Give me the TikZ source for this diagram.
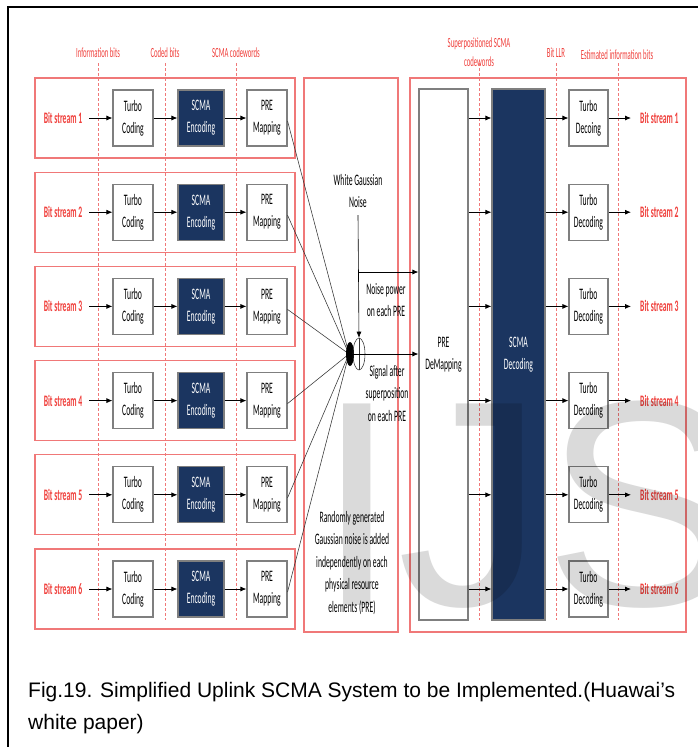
\documentclass[tikz,border=0pt]{standalone}
\usepackage{fontspec}
\usetikzlibrary{arrows.meta,shapes.geometric}
\newfontfamily\cf{Carlito}[FakeStretch=0.48]
\newfontfamily\capf{Liberation Sans}
\definecolor{navy}{HTML}{1B3560}
\definecolor{rtxt}{HTML}{F0403C}
\definecolor{rline}{HTML}{F07878}
\definecolor{gbox}{HTML}{7F7F7F}
\definecolor{wm}{HTML}{DADADA}
\begin{document}
\begin{tikzpicture}[x=1pt,y=-1pt,
  rowbox/.style={draw=rline, line width=1.1pt},
  wbox/.style={draw=gbox, line width=1.1pt, fill=white, minimum width=40pt, minimum height=56pt, inner sep=0pt, align=center, font=\cf\fontsize{16}{22}\selectfont},
  nbox/.style={wbox, fill=navy, text=white},
  arr/.style={-{Latex[length=6pt,width=5pt]}, line width=0.8pt},
  dline/.style={draw=rline, line width=0.6pt, dash pattern=on 3pt off 2pt},
  hdr/.style={text=rtxt, align=center, font=\cf\fontsize{14}{19}\selectfont, inner sep=0pt},
  bsl/.style={text=rtxt, font=\cf\bfseries\fontsize{16}{18}\selectfont, inner sep=0pt},
  mtxt/.style={align=center, font=\cf\fontsize{16}{22.5}\selectfont, inner sep=0pt},
  thinl/.style={line width=0.55pt, draw=black!80}]
\useasboundingbox (0,0) rectangle (698,747);
\fill[white] (0,0) rectangle (698,747);
% frame
\draw[line width=2pt] (8,747) -- (8,7) -- (698,7);
% headers
\node[hdr] (h1) at (98,53) {Information bits};
\node[hdr] (h2) at (165,53) {Coded bits};
\node[hdr] (h3) at (236,53) {SCMA codewords};
\node[hdr] (h4) at (479,52) {Superpositioned SCMA\\codewords};
\node[hdr] (h5) at (556,53) {Bit LLR};
\node[hdr] (h6) at (617,55) {Estimated information bits};
% big boxes
\draw[rowbox] (304,78) rectangle (398,632);
\draw[rowbox] (410,78) rectangle (686,632);
\foreach \i in {1,...,6}{
  \pgfmathsetmacro\yc{118+94.2*(\i-1)}
  \draw[rowbox] (35,\yc-40) rectangle (295,\yc+40);
}
% dashed guides
\foreach \x in {98,165,236,479,556,618}{
  \draw[dline] (\x,63) -- (\x,620);
}
% receiver blocks
\node[wbox, minimum width=49pt, minimum height=531pt] (pdm) at (443.5,354.5) {PRE\\DeMapping};
\node[nbox, minimum width=53pt, minimum height=531pt] (scd) at (518.5,354.5) {SCMA\\Decoding};
% rows
\coordinate (conv) at (349,354);
\foreach \i in {1,...,6}{
  \pgfmathsetmacro\yc{118+94.2*(\i-1)}
  \node[bsl] (bs\i) at (63,\yc) {Bit stream \i};
  \node[wbox] (tc\i) at (133,\yc) {Turbo\\Coding};
  \node[nbox, minimum width=46pt] (se\i) at (201,\yc) {SCMA\\Encoding};
  \node[wbox] (pm\i) at (267,\yc) {PRE\\Mapping};
  \draw[arr] ([xshift=7pt]bs\i.east) -- (tc\i.west);
  \draw[arr] (tc\i.east) -- (se\i.west);
  \draw[arr] (se\i.east) -- (pm\i.west);
  \draw[thinl] ([yshift=-3pt]pm\i.east) -- (conv);
  \node[wbox, minimum width=39pt] (td\i) at (588.5,\yc) {Turbo\\\ifnum\i=1 Decoing\else Decoding\fi};
  \node[bsl, anchor=west] (ob\i) at (640,\yc) {Bit stream \i};
  \draw[arr] (pdm.east |- td\i) -- (scd.west |- td\i);
  \draw[arr] (scd.east |- td\i) -- (td\i.west);
  \draw[arr] (td\i.east) -- ([xshift=-9pt]ob\i.west);
}
% noise / sum
\node[mtxt] (wgn) at (358,191) {White Gaussian\\Noise};
\node[fill=black, ellipse, minimum width=8pt, minimum height=24pt, inner sep=0pt] (blob) at (350,354) {};
\node[draw, thinl, ellipse, minimum width=12pt, minimum height=32pt, inner sep=0pt] (sum) at (359,354) {};
\draw[thinl] (sum.north) -- (sum.south);
\coordinate (np) at (359,272);
\draw[arr, line width=0.6pt] (wgn.south |- 0,215) -- (sum.north);
\draw[arr] (np) -- (pdm.west |- np);
\draw[arr] (blob.center) -- (pdm.west |- blob.center);
\node[mtxt] (npt) at (386,300) {Noise power\\on each PRE};
\node[mtxt] (sig) at (387,393) {Signal after\\superposition\\on each PRE};
\node[mtxt] (rnd) at (352,563) {Randomly generated\\Gaussian noise is added\\independently on each\\physical resource\\elements (PRE)};
% caption
\node[anchor=base west, inner sep=0pt, font=\capf\fontsize{21}{32}\selectfont] (cap1) at (28,697) {Fig.19. Simplified Uplink SCMA System to be Implemented.(Huawai’s};
\node[anchor=base west, inner sep=0pt, font=\capf\fontsize{21}{32}\selectfont] (cap2) at (28,729) {white paper)};
% watermark
\begin{scope}[blend mode=multiply]
\node[anchor=base west, inner sep=0pt, text=wm, font=\capf\fontsize{293}{293}\selectfont] (wmk) at (316,605) {IJS};
\end{scope}
\end{tikzpicture}
\end{document}
